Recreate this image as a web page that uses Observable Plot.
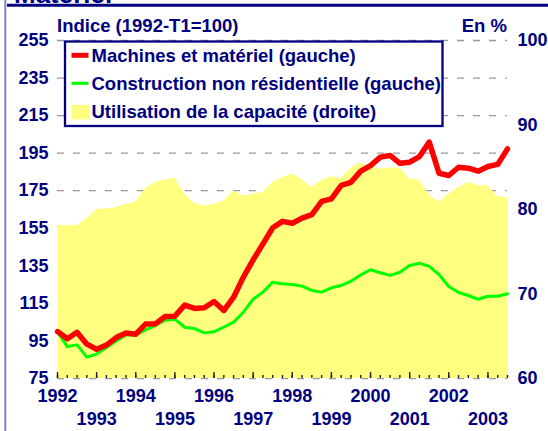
<!DOCTYPE html>
<html>
<head>
<meta charset="utf-8">
<script src="https://cdn.jsdelivr.net/npm/d3@7"></script>
<script src="https://cdn.jsdelivr.net/npm/@observablehq/plot@0.6"></script>
<style>
  html, body { margin: 0; padding: 0; background: #fff; }
  #wrap { position: relative; width: 548px; height: 431px; overflow: hidden; }
  #wrap svg { position: absolute; left: 0; top: 0; }
</style>
</head>
<body>
<div id="wrap"></div>
<script>
// ---- Data (quarterly, 1992-T1 .. 2003-T3) ----
const startYear = 1992;
const machines = [100, 96.2, 99.6, 93.3, 90.6, 92.8, 96.8, 99.2, 98.6, 104, 104.1, 108,
  108.2, 114.1, 112.3, 112.7, 116, 111.2, 118.3, 129, 138.2, 146.7, 155.3, 158.7,
  157.7, 160.4, 162.3, 169.3, 170.7, 177.8, 179.5, 185.4, 188.4, 192.9, 193.8, 189.6,
  190.2, 193.2, 200.9, 184.3, 183.1, 187.5, 187, 185.4, 187.9, 189, 197.3];
const construction = [100, 92, 92.9, 86.4, 88, 91.5, 95, 98.2, 98.1, 100.9, 103.2, 106,
  106.6, 102.3, 101.6, 99.3, 99.9, 102.3, 105, 110.3, 117.2, 121, 126.3, 125.4,
  125.1, 124.2, 121.9, 121, 123.3, 124.5, 126.8, 130.2, 132.9, 131.3, 129.9, 131.6,
  135.2, 136.4, 134.7, 130.4, 124, 120.8, 119.2, 117.2, 118.8, 118.8, 120.1];
const capacity = [78.1, 78.1, 78.1, 78.9, 80.0, 80.1, 80.2, 80.6, 80.9, 82.5, 83.2, 83.5,
  83.7, 81.8, 80.7, 80.4, 80.6, 81.0, 82.2, 81.6, 81.8, 82.0, 83.2, 83.8,
  84.2, 83.5, 82.6, 83.4, 83.9, 83.6, 84.9, 85.5, 85.1, 84.8, 84.9, 84.9,
  83.6, 83.5, 81.7, 80.9, 81.8, 82.6, 83.2, 82.8, 82.8, 81.5, 81.4];
const years = [1992, 1993, 1994, 1995, 1996, 1997, 1998, 1999, 2000, 2001, 2002, 2003];
const leftTicks = [75, 95, 115, 135, 155, 175, 195, 215, 235, 255];
const rightTicks = [60, 70, 80, 90, 100];
const seriesNames = ["Machines et matériel (gauche)", "Construction non résidentielle (gauche)", "Utilisation de la capacité (droite)"];
const title = "Matériel";
const leftLabel = "Indice (1992-T1=100)";
const rightLabel = "En %";

// ---- Scales mapping ----
const leftDomain = [75, 255], rightDomain = [60, 100];
const toLeft = v => leftDomain[0] + (v - rightDomain[0]) * (leftDomain[1] - leftDomain[0]) / (rightDomain[1] - rightDomain[0]);
const fromLeft = v => rightDomain[0] + (v - leftDomain[0]) * (rightDomain[1] - rightDomain[0]) / (leftDomain[1] - leftDomain[0]);

const rows = machines.map((m, i) => ({t: startYear + i / 4, m, c: construction[i], u: toLeft(capacity[i])}));
const quarterTicks = rows.map(d => d.t);
const evenYears = years.filter((y, i) => i % 2 === 0);
const oddYears = years.filter((y, i) => i % 2 === 1);

const navy = "#000080";
const font = "'Liberation Sans', Arial, sans-serif";

const chart = Plot.plot({
  width: 548, height: 431,
  marginLeft: 57, marginRight: 41, marginTop: 40, marginBottom: 53,
  style: {fontFamily: font, fontWeight: "bold", fontSize: "18px", color: navy, background: "transparent", overflow: "visible"},
  x: {domain: [startYear, startYear + (rows.length - 1) / 4], axis: null},
  y: {domain: leftDomain, axis: null},
  marks: [
    Plot.gridY(leftTicks, {stroke: "#999", strokeOpacity: 1, strokeWidth: 1.3, strokeDasharray: "7,9"}),
    Plot.areaY(rows, {x: "t", y1: leftDomain[0], y2: "u", fill: "#ffff80", curve: "linear"}),
    Plot.line(rows, {x: "t", y: "c", stroke: "#00ff00", strokeWidth: 3}),
    Plot.line(rows, {x: "t", y: "m", stroke: "#ff0000", strokeWidth: 5.5}),
    Plot.axisY(leftTicks, {anchor: "left", tickSize: 0, tickPadding: 9, label: null, fontSize: 18, fontWeight: "bold", tickFormat: d => String(d)}),
    Plot.axisY(rightTicks.map(toLeft), {anchor: "right", tickSize: 0, tickPadding: 10, label: null, fontSize: 18, fontWeight: "bold", tickFormat: d => String(Math.round(fromLeft(d)))}),
    Plot.axisX(quarterTicks, {anchor: "bottom", tickSize: -3, strokeWidth: 1.4, stroke: "#222", tickFormat: () => "", label: null}),
    Plot.axisX(years, {anchor: "bottom", tickSize: -6, strokeWidth: 1.4, stroke: "#222", tickFormat: () => "", label: null}),
    Plot.axisX(evenYears, {anchor: "bottom", tickSize: 0, tickPadding: 11, fontSize: 18, fontWeight: "bold", tickFormat: d => String(d), label: null}),
    Plot.axisX(oddYears, {anchor: "bottom", tickSize: 0, tickPadding: 34, fontSize: 18, fontWeight: "bold", tickFormat: d => String(d), label: null})
  ]
});
document.getElementById("wrap").appendChild(chart);

// ---- Overlay: frame, titles, legend ----
const svg = d3.select("#wrap").append("svg")
  .attr("width", 548).attr("height", 431)
  .style("font-family", font).style("font-weight", "bold").style("font-size", "18px");

svg.append("line").attr("x1", 5.3).attr("x2", 5.3).attr("y1", 0).attr("y2", 431)
  .attr("stroke", "#8484c4").attr("stroke-width", 2);
svg.append("text").attr("x", 14).attr("y", 2.5).attr("fill", navy).style("font-size", "26px").text(title);
svg.append("line").attr("x1", 7).attr("x2", 548).attr("y1", 5.3).attr("y2", 5.3)
  .attr("stroke", navy).attr("stroke-width", 3);

svg.append("text").attr("x", 57).attr("y", 31.5).attr("fill", navy).style("font-size", "18.5px").text(leftLabel);
svg.append("text").attr("x", 507).attr("y", 31.5).attr("fill", navy).attr("text-anchor", "end").style("font-size", "18.5px").text(rightLabel);

const lg = svg.append("g").style("font-size", "18.5px");
lg.append("rect").attr("x", 65).attr("y", 41.5).attr("width", 377.5).attr("height", 84.5)
  .attr("fill", "#fff").attr("stroke", navy).attr("stroke-width", 2.3);
const colors = ["#ff0000", "#00ff00", "#ffff80"];
const baselines = [61.5, 89.5, 118];
seriesNames.forEach((name, i) => {
  if (i < 2) {
    lg.append("line").attr("x1", 71.5).attr("x2", 88.5).attr("y1", baselines[i] - 6.2).attr("y2", baselines[i] - 6.2)
      .attr("stroke", colors[i]).attr("stroke-width", i === 0 ? 5 : 3);
  } else {
    lg.append("rect").attr("x", 71.5).attr("y", 105).attr("width", 17.5).attr("height", 14.5).attr("fill", colors[i]);
  }
  lg.append("text").attr("x", 91.5).attr("y", baselines[i]).attr("fill", navy).text(name);
});
</script>
</body>
</html>
